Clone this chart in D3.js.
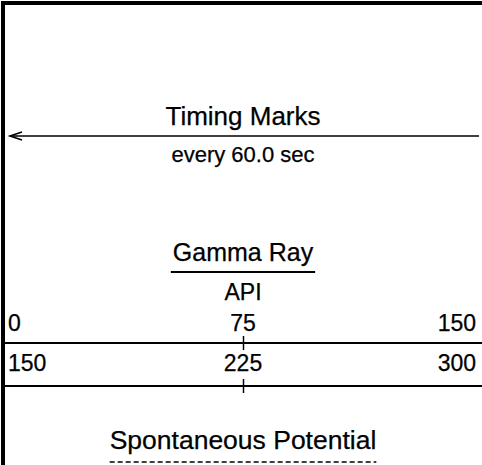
<!DOCTYPE html>
<html>
<head>
<meta charset="utf-8">
<script src="https://cdn.jsdelivr.net/npm/d3@7"></script>
<style>
  body { margin: 0; background: #fff; }
  svg { display: block; font-family: "Liberation Sans", Arial, sans-serif; }
  text { fill: #000; stroke: #000; stroke-width: 0.25px; }
</style>
</head>
<body>
<script>
// log header data
var timingTitle = "Timing Marks";
var timingNote = "every 60.0 sec";
var curveNames = ["Gamma Ray", "Spontaneous Potential"];
var curveUnits = ["API", ""];
var curveDash = [null, "5,3"];
var grTicks = [0, 75, 150];
var backupTicks = [150, 225, 300];

var width = 482, height = 465;

var svg = d3.select("body").append("svg")
  .attr("width", width)
  .attr("height", height);

// track frame: thick left + top border
svg.append("rect").attr("x", 1).attr("y", 1).attr("width", 4).attr("height", height).attr("fill", "#000");
svg.append("rect").attr("x", 1).attr("y", 1).attr("width", width).attr("height", 4).attr("fill", "#000");

var x = d3.scaleLinear().domain([0, 150]).range([5, 481]);
var xb = d3.scaleLinear().domain([150, 300]).range([5, 481]);
var cx = x(75);

// timing marks
svg.append("text").attr("x", cx).attr("y", 125).attr("text-anchor", "middle")
  .attr("font-size", 26).text(timingTitle);
svg.append("line").attr("x1", 10).attr("x2", 479).attr("y1", 136).attr("y2", 136)
  .attr("stroke", "#000").attr("stroke-width", 1.6);
svg.append("path").attr("d", "M22,132L10,136L22,140").attr("fill", "none")
  .attr("stroke", "#000").attr("stroke-width", 1.6);
svg.append("text").attr("x", cx).attr("y", 162).attr("text-anchor", "middle")
  .attr("font-size", 22).text(timingNote);

// gamma ray title
var gr = svg.append("text").attr("x", cx).attr("y", 261).attr("text-anchor", "middle")
  .attr("font-size", 25).text(curveNames[0]);
var gw = gr.node().getComputedTextLength();
svg.append("line").attr("x1", cx - gw / 2 - 2).attr("x2", cx + gw / 2 + 2)
  .attr("y1", 272).attr("y2", 272).attr("stroke", "#000").attr("stroke-width", 2);
svg.append("text").attr("x", cx).attr("y", 300).attr("text-anchor", "middle")
  .attr("font-size", 23).text(curveUnits[0]);

// scale rows
function scaleRow(sc, ticks, textY, lineY) {
  var g = svg.append("g");
  g.selectAll("text").data(ticks).enter().append("text")
    .attr("x", function(d, i) { return i == 0 ? 8 : i == ticks.length - 1 ? 476 : sc(d); })
    .attr("y", textY)
    .attr("font-size", 23)
    .attr("text-anchor", function(d, i) { return i == 0 ? "start" : i == ticks.length - 1 ? "end" : "middle"; })
    .text(function(d) { return d; });
  g.append("line").attr("x1", 5).attr("x2", width).attr("y1", lineY).attr("y2", lineY)
    .attr("stroke", "#000").attr("stroke-width", 2);
  g.selectAll("line.tick").data(ticks.slice(1, -1)).enter().append("line")
    .attr("class", "tick")
    .attr("x1", function(d) { return Math.round(sc(d)) + 0.5; })
    .attr("x2", function(d) { return Math.round(sc(d)) + 0.5; })
    .attr("y1", lineY - 7).attr("y2", lineY + 7)
    .attr("stroke", "#000").attr("stroke-width", 1.5);
}
scaleRow(x, grTicks, 331, 343);
scaleRow(xb, backupTicks, 371, 386);

// spontaneous potential title with dashed underline
var sp = svg.append("text").attr("x", cx).attr("y", 449).attr("text-anchor", "middle")
  .attr("font-size", 26.5).text(curveNames[1]);
var sw = sp.node().getComputedTextLength();
svg.append("line").attr("x1", cx - sw / 2).attr("x2", cx + sw / 2)
  .attr("y1", 462).attr("y2", 462).attr("stroke", "#000").attr("stroke-width", 1.6)
  .attr("stroke-dasharray", curveDash[1]);
</script>
</body>
</html>
